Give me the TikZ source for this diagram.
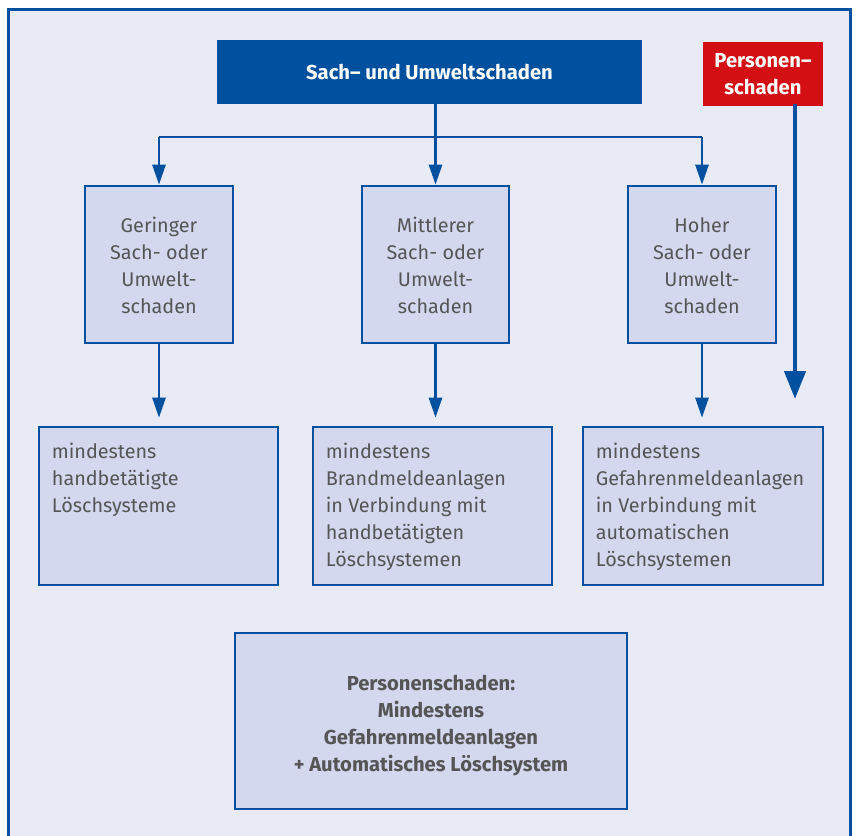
\documentclass[tikz,border=0pt]{standalone}
\usepackage{fontspec}
\setmainfont{Fira Sans}
\usetikzlibrary{arrows.meta}
\definecolor{bgc}{HTML}{E8EBF6}
\definecolor{boxc}{HTML}{D3D8EE}
\definecolor{bluec}{HTML}{0050A0}
\definecolor{redc}{HTML}{D40F14}
\definecolor{txtc}{HTML}{555555}
\tikzset{
  box/.style={draw=bluec,fill=boxc,line width=2.6pt,inner sep=0pt},
  lbl/.style={text=txtc,font=\fontsize{19.8}{27}\selectfont,align=center,inner sep=0pt},
  ltxt/.style={text=txtc,font=\fontsize{19.8}{27}\selectfont,align=left,inner sep=0pt,anchor=north west},
  arr/.style={draw=bluec,line width=2.6pt,-{Triangle[length=20pt,width=13pt]}},
  conn/.style={draw=bluec,line width=2.6pt},
}
\begin{document}
\begin{tikzpicture}[x=1pt,y=-1pt]
\useasboundingbox (0,0) rectangle (856,835);
\fill[white] (0,0) rectangle (856,835);
\draw[draw=bluec,fill=bgc,line width=2.6pt] (8.5,9.5) rectangle (850.5,850);
% header
\node[fill=bluec,minimum width=425pt,minimum height=64pt,inner sep=0pt,text=white,font=\bfseries\fontsize{20.2}{27}\selectfont] (head) at (429.5,72) {Sach-- und Umweltschaden};
\node[fill=redc,minimum width=120pt,minimum height=64pt,inner sep=0pt,text=white,align=center,font=\bfseries\fontsize{20.2}{27}\selectfont] (red) at (763,74) {Personen--\\schaden};
% middle boxes
\node[box,minimum width=148pt,minimum height=157pt] (m1) at (159,264.5) {};
\node[box,minimum width=147pt,minimum height=157pt] (m2) at (435.5,264.5) {};
\node[box,minimum width=148pt,minimum height=157pt] (m3) at (702,264.5) {};
\node[lbl] (t1) at (159,265.5) {Geringer\\Sach- oder\\Umwelt-\\schaden};
\node[lbl] (t2) at (435.5,265.5) {Mittlerer\\Sach- oder\\Umwelt-\\schaden};
\node[lbl] (t3) at (702,265.5) {Hoher\\Sach- oder\\Umwelt-\\schaden};
% bottom boxes
\node[box,minimum width=239pt,minimum height=158pt] (b1) at (158.5,506) {};
\node[box,minimum width=239pt,minimum height=158pt] (b2) at (432.5,506) {};
\node[box,minimum width=240pt,minimum height=158pt] (b3) at (703,506) {};
\node[ltxt] (u1) at ([xshift=14pt,yshift=-17pt]b1.north west) {mindestens\\handbetätigte\\Löschsysteme};
\node[ltxt] (u2) at ([xshift=14pt,yshift=-17pt]b2.north west) {mindestens\\Brandmeldeanlagen\\in Verbindung mit\\handbetätigten\\Löschsystemen};
\node[ltxt] (u3) at ([xshift=14pt,yshift=-17pt]b3.north west) {mindestens\\Gefahrenmeldeanlagen\\in Verbindung mit\\automatischen\\Löschsystemen};
% final box
\node[box,minimum width=392pt,minimum height=176pt] (fin) at (431,721) {};
\node[lbl,font=\bfseries\fontsize{20.2}{27}\selectfont] (ft) at (431,725.5) {Personenschaden:\\Mindestens\\Gefahrenmeldeanlagen\\+ Automatisches Löschsystem};
% connectors
\coordinate (j) at (436,137);
\draw[arr] (head.south -| m2.north) -- (m2.north);
\draw[conn] (j) -- (j -| m1.north);
\draw[conn] (j) -- (j -| m3.north);
\draw[arr] (j -| m1.north) -- (m1.north);
\draw[arr] (j -| m3.north) -- (m3.north);
\draw[arr,shorten >=8pt] (m1.south) -- (m1.south |- b1.north);
\draw[arr,shorten >=8pt] (m2.south) -- (m2.south |- b2.north);
\draw[arr,shorten >=8pt] (m3.south) -- (m3.south |- b3.north);
\coordinate (rs) at (795,104);
\coordinate (re) at (795,399);
\draw[draw=bluec,line width=4.5pt,-{Triangle[length=28pt,width=21pt]}] (rs) -- (re);
\end{tikzpicture}
\end{document}
